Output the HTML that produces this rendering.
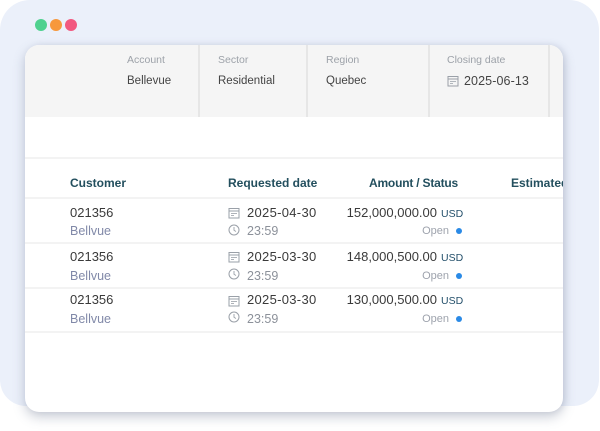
<!DOCTYPE html>
<html><head><meta charset="utf-8">
<style>
*{margin:0;padding:0;box-sizing:border-box}
html,body{width:600px;height:431px;background:#fff;overflow:hidden;font-family:"Liberation Sans",sans-serif}
.bg{position:absolute;left:0;top:0;width:599px;height:406px;background:#ebf0fa;border-radius:30px 30px 26px 26px}
.dot{position:absolute;top:19px;width:12px;height:12px;border-radius:50%}
.card{position:absolute;left:25px;top:45px;width:538px;height:367px;background:#fff;border-radius:14px;overflow:hidden;box-shadow:0 5px 12px rgba(95,105,135,0.33),2px 0 6px rgba(120,130,160,0.15)}
.hdr{position:absolute;left:0;top:0;width:538px;height:72px;background:#f5f5f5}
.sep{position:absolute;top:0;width:1.5px;height:72px;background:#e6e6e6}
.t{position:absolute;white-space:nowrap;line-height:16px}
.lbl{font-size:10.5px;color:#9da2a9}
.val{font-size:11.5px;color:#444}
.th{font-size:12px;font-weight:bold;color:#234f5e}
.hl{position:absolute;left:0;width:538px;height:2px;background:#f3f3f3}
.num{font-size:13px;color:#3a3a3a}
.sub{font-size:12.5px;color:#8189a8}
.tm{font-size:12.5px;color:#8c919a}
.usd{font-size:10.5px;color:#24506b}
.open{font-size:11px;color:#9ea3ad}
.bd{position:absolute;width:6px;height:6px;border-radius:50%;background:#2a8ae6}
svg{position:absolute}
</style></head><body>
<div class="bg"></div>
<div class="dot" style="left:35px;background:#4fd18f"></div>
<div class="dot" style="left:50px;background:#f7983c"></div>
<div class="dot" style="left:65px;background:#f2587f"></div>

<div class="card">
  <div class="hdr"></div>
  <div class="sep" style="left:173px"></div>
  <div class="sep" style="left:281px"></div>
  <div class="sep" style="left:403px"></div>
  <div class="sep" style="left:523px"></div>

  <div class="t lbl" style="left:102px;top:7px">Account</div>
  <div class="t val" style="left:102px;top:28px">Bellevue</div>
  <div class="t lbl" style="left:193px;top:7px">Sector</div>
  <div class="t val" style="left:193px;top:28px">Residential</div>
  <div class="t lbl" style="left:301px;top:7px">Region</div>
  <div class="t val" style="left:301px;top:28px">Quebec</div>
  <div class="t lbl" style="left:422px;top:7px">Closing date</div>
  <svg style="left:422px;top:30px" width="12" height="12" viewBox="0 0 12 12"><rect x="1" y="1.5" width="10" height="9.5" fill="none" stroke="#9aa0a8" stroke-width="1"/><line x1="1" y1="4" x2="11" y2="4" stroke="#9aa0a8"/><line x1="3" y1="6.5" x2="9" y2="6.5" stroke="#9aa0a8" stroke-width="0.8"/><line x1="3" y1="8.5" x2="6" y2="8.5" stroke="#9aa0a8" stroke-width="0.8"/></svg>
  <div class="t val" style="left:439px;top:28px;font-size:12.5px;letter-spacing:0.1px">2025-06-13</div>

  <div class="hl" style="top:112px"></div>

  <div class="t th" style="left:45px;top:130px">Customer</div>
  <div class="t th" style="left:203px;top:130px">Requested date</div>
  <div class="t th" style="left:323px;top:130px;width:110px;text-align:right;letter-spacing:-0.2px">Amount / Status</div>
  <div class="t th" style="left:486px;top:130px">Estimated date</div>
  <div class="hl" style="top:152px"></div>

  <!-- row 1 -->
  <div class="t num" style="left:45px;top:160px">021356</div>
  <div class="t sub" style="left:45px;top:178px">Bellvue</div>
  <svg style="left:203px;top:162px" width="12" height="12" viewBox="0 0 12 12"><rect x="1" y="1.5" width="10" height="9.5" fill="none" stroke="#9aa0a8"/><line x1="1" y1="4" x2="11" y2="4" stroke="#9aa0a8"/><line x1="3" y1="6.5" x2="9" y2="6.5" stroke="#9aa0a8" stroke-width="0.8"/><line x1="3" y1="8.5" x2="6" y2="8.5" stroke="#9aa0a8" stroke-width="0.8"/></svg>
  <div class="t num" style="left:222px;top:160px;letter-spacing:0.3px">2025-04-30</div>
  <svg style="left:203px;top:179px" width="12" height="12" viewBox="0 0 12 12"><circle cx="6" cy="6" r="5" fill="none" stroke="#9aa0a8"/><path d="M6 3V6.3L8 7.5" fill="none" stroke="#9aa0a8" stroke-width="0.9"/></svg>
  <div class="t tm" style="left:222px;top:178px">23:59</div>
  <div class="t num" style="left:300px;top:160px;width:112px;text-align:right">152,000,000.00</div>
  <div class="t usd" style="left:416px;top:161px">USD</div>
  <div class="t open" style="left:364px;top:178px;width:60px;text-align:right">Open</div>
  <div class="bd" style="left:431px;top:183px"></div>
  <div class="hl" style="top:197px"></div>

  <!-- row 2 -->
  <div class="t num" style="left:45px;top:204px">021356</div>
  <div class="t sub" style="left:45px;top:223px">Bellvue</div>
  <svg style="left:203px;top:206px" width="12" height="12" viewBox="0 0 12 12"><rect x="1" y="1.5" width="10" height="9.5" fill="none" stroke="#9aa0a8"/><line x1="1" y1="4" x2="11" y2="4" stroke="#9aa0a8"/><line x1="3" y1="6.5" x2="9" y2="6.5" stroke="#9aa0a8" stroke-width="0.8"/><line x1="3" y1="8.5" x2="6" y2="8.5" stroke="#9aa0a8" stroke-width="0.8"/></svg>
  <div class="t num" style="left:222px;top:204px;letter-spacing:0.3px">2025-03-30</div>
  <svg style="left:203px;top:223px" width="12" height="12" viewBox="0 0 12 12"><circle cx="6" cy="6" r="5" fill="none" stroke="#9aa0a8"/><path d="M6 3V6.3L8 7.5" fill="none" stroke="#9aa0a8" stroke-width="0.9"/></svg>
  <div class="t tm" style="left:222px;top:223px">23:59</div>
  <div class="t num" style="left:300px;top:204px;width:112px;text-align:right">148,000,500.00</div>
  <div class="t usd" style="left:416px;top:205px">USD</div>
  <div class="t open" style="left:364px;top:223px;width:60px;text-align:right">Open</div>
  <div class="bd" style="left:431px;top:228px"></div>
  <div class="hl" style="top:242px"></div>

  <!-- row 3 -->
  <div class="t num" style="left:45px;top:247px">021356</div>
  <div class="t sub" style="left:45px;top:266px">Bellvue</div>
  <svg style="left:203px;top:250px" width="12" height="12" viewBox="0 0 12 12"><rect x="1" y="1.5" width="10" height="9.5" fill="none" stroke="#9aa0a8"/><line x1="1" y1="4" x2="11" y2="4" stroke="#9aa0a8"/><line x1="3" y1="6.5" x2="9" y2="6.5" stroke="#9aa0a8" stroke-width="0.8"/><line x1="3" y1="8.5" x2="6" y2="8.5" stroke="#9aa0a8" stroke-width="0.8"/></svg>
  <div class="t num" style="left:222px;top:247px;letter-spacing:0.3px">2025-03-30</div>
  <svg style="left:203px;top:266px" width="12" height="12" viewBox="0 0 12 12"><circle cx="6" cy="6" r="5" fill="none" stroke="#9aa0a8"/><path d="M6 3V6.3L8 7.5" fill="none" stroke="#9aa0a8" stroke-width="0.9"/></svg>
  <div class="t tm" style="left:222px;top:266px">23:59</div>
  <div class="t num" style="left:300px;top:247px;width:112px;text-align:right">130,000,500.00</div>
  <div class="t usd" style="left:416px;top:248px">USD</div>
  <div class="t open" style="left:364px;top:266px;width:60px;text-align:right">Open</div>
  <div class="bd" style="left:431px;top:271px"></div>
  <div class="hl" style="top:286px"></div>
</div>
</body></html>
